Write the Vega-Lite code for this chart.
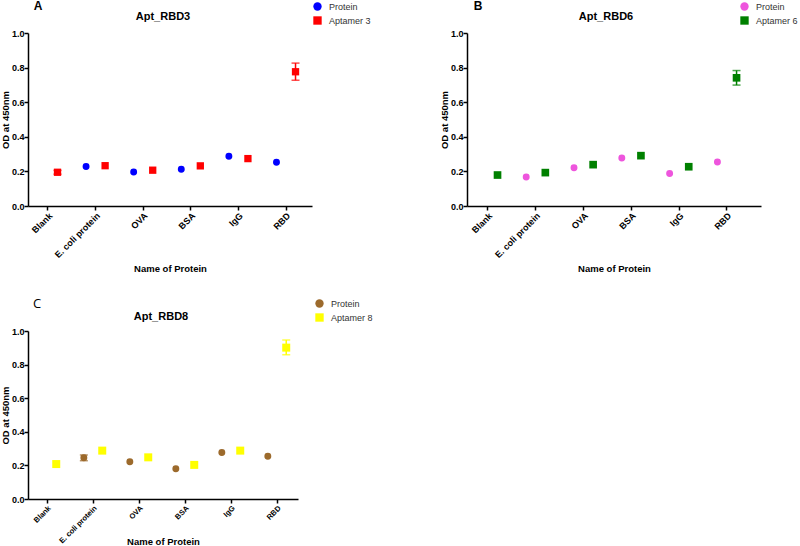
{
  "$schema": "https://vega.github.io/schema/vega-lite/v6.json",
  "padding": {"left": 0, "top": 0, "right": 0, "bottom": 0},
  "background": "white",
  "config": {
    "font": "Liberation Sans",
    "view": {"stroke": null},
    "axis": {"grid": false, "domainColor": "#000", "domainWidth": 1.5, "tickColor": "#000", "tickWidth": 1.5, "tickSize": 4, "labelColor": "#000", "labelFontSize": 9, "labelFontWeight": "bold", "titleColor": "#000", "titleFontSize": 9.5, "titleFontWeight": "bold", "labelPadding": 0},
    "axisY": {"values": [0, 0.2, 0.4, 0.6, 0.8, 1.0], "format": ".1f", "titlePadding": 1},
    "axisX": {"labelAngle": -45, "titleBaseline": "middle", "labelPadding": 1},
    "title": {"fontSize": 11, "fontWeight": "bold", "color": "#000", "frame": "group"},
    "legend": {"orient": "none", "title": null, "labelFontSize": 9, "labelColor": "#333", "symbolSize": 70, "rowPadding": 4, "padding": 0, "labelOffset": 7, "symbolStrokeWidth": 0}
  },
  "columns": 2,
  "bounds": "flush",
  "spacing": {"row": 125, "column": 155},
  "resolve": {"scale": {"color": "independent", "shape": "independent", "x": "independent", "y": "independent", "xOffset": "independent"}, "legend": {"color": "independent", "shape": "independent"}},
  "concat": [
    {
      "width": 284, "height": 173,
      "title": {"text": "Apt_RBD3", "dx": -7, "offset": -22},
      "layer": [
        {
          "data": {"values": [
            {"protein": "Blank", "series": "Aptamer 3", "od": 0.195, "lo": 0.184, "hi": 0.206},
            {"protein": "E. coli protein", "series": "Protein", "od": 0.228},
            {"protein": "E. coli protein", "series": "Aptamer 3", "od": 0.233},
            {"protein": "OVA", "series": "Protein", "od": 0.197},
            {"protein": "OVA", "series": "Aptamer 3", "od": 0.207},
            {"protein": "BSA", "series": "Protein", "od": 0.212},
            {"protein": "BSA", "series": "Aptamer 3", "od": 0.232},
            {"protein": "IgG", "series": "Protein", "od": 0.288},
            {"protein": "IgG", "series": "Aptamer 3", "od": 0.274},
            {"protein": "RBD", "series": "Protein", "od": 0.253},
            {"protein": "RBD", "series": "Aptamer 3", "od": 0.776, "lo": 0.727, "hi": 0.826}
          ]},
          "encoding": {
            "x": {"field": "protein", "type": "nominal", "title": "Name of Protein", "scale": {"domain": ["Blank", "E. coli protein", "OVA", "BSA", "IgG", "RBD"], "paddingInner": 0.2, "paddingOuter": 0.083, "align": 0.12}, "axis": {"titleY": 62}},
            "xOffset": {"field": "series", "type": "nominal", "scale": {"domain": ["Protein", "Aptamer 3"]}},
            "color": {"field": "series", "type": "nominal", "scale": {"domain": ["Protein", "Aptamer 3"], "range": ["#0000FF", "#FF0000"]}, "legend": {"legendX": 285, "legendY": -31}}
          },
          "layer": [
            {
              "mark": {"type": "point", "filled": true, "opacity": 1},
              "encoding": {
                "y": {"field": "od", "type": "quantitative", "title": "OD at 450nm", "scale": {"domain": [0, 1]}},
                "shape": {"field": "series", "type": "nominal", "scale": {"domain": ["Protein", "Aptamer 3"], "range": ["circle", "square"]}, "legend": {"legendX": 285, "legendY": -31}},
                "size": {"field": "series", "type": "nominal", "scale": {"domain": ["Protein", "Aptamer 3"], "range": [48, 64]}, "legend": null}
              }
            },
            {
              "transform": [{"filter": "isValid(datum.lo)"}],
              "mark": {"type": "rule", "strokeWidth": 1.5},
              "encoding": {"y": {"field": "lo", "type": "quantitative", "title": "OD at 450nm"}, "y2": {"field": "hi"}}
            },
            {
              "transform": [{"filter": "isValid(datum.lo)"}],
              "mark": {"type": "tick", "thickness": 1.5, "size": 8, "orient": "horizontal"},
              "encoding": {"y": {"field": "lo", "type": "quantitative", "title": "OD at 450nm"}}
            },
            {
              "transform": [{"filter": "isValid(datum.lo)"}],
              "mark": {"type": "tick", "thickness": 1.5, "size": 8, "orient": "horizontal"},
              "encoding": {"y": {"field": "hi", "type": "quantitative", "title": "OD at 450nm"}}
            }
          ]
        },
        {
          "data": {"values": [{"letter": "A"}]},
          "mark": {"type": "text", "fontSize": 12, "fontWeight": "bold", "color": "#000", "dx": -10, "dy": -27},
          "encoding": {"x": {"datum": "Blank", "type": "nominal"}, "y": {"datum": 1, "type": "quantitative"}, "text": {"field": "letter"}}
        }
      ]
    },
    {
      "width": 294, "height": 173,
      "title": {"text": "Apt_RBD6", "dx": -8, "offset": -22},
      "layer": [
        {
          "data": {"values": [
            {"protein": "Blank", "series": "Aptamer 6", "od": 0.179},
            {"protein": "E. coli protein", "series": "Protein", "od": 0.168},
            {"protein": "E. coli protein", "series": "Aptamer 6", "od": 0.193},
            {"protein": "OVA", "series": "Protein", "od": 0.221},
            {"protein": "OVA", "series": "Aptamer 6", "od": 0.239},
            {"protein": "BSA", "series": "Protein", "od": 0.277},
            {"protein": "BSA", "series": "Aptamer 6", "od": 0.291},
            {"protein": "IgG", "series": "Protein", "od": 0.188},
            {"protein": "IgG", "series": "Aptamer 6", "od": 0.227},
            {"protein": "RBD", "series": "Protein", "od": 0.254},
            {"protein": "RBD", "series": "Aptamer 6", "od": 0.741, "lo": 0.699, "hi": 0.783}
          ]},
          "encoding": {
            "x": {"field": "protein", "type": "nominal", "title": "Name of Protein", "scale": {"domain": ["Blank", "E. coli protein", "OVA", "BSA", "IgG", "RBD"], "paddingInner": 0.2, "paddingOuter": 0.175, "align": 0.11}, "axis": {"titleY": 62}},
            "xOffset": {"field": "series", "type": "nominal", "scale": {"domain": ["Protein", "Aptamer 6"]}},
            "color": {"field": "series", "type": "nominal", "scale": {"domain": ["Protein", "Aptamer 6"], "range": ["#EE55DD", "#008000"]}, "legend": {"legendX": 273, "legendY": -31}}
          },
          "layer": [
            {
              "mark": {"type": "point", "filled": true, "opacity": 1},
              "encoding": {
                "y": {"field": "od", "type": "quantitative", "title": "OD at 450nm", "scale": {"domain": [0, 1]}},
                "shape": {"field": "series", "type": "nominal", "scale": {"domain": ["Protein", "Aptamer 6"], "range": ["circle", "square"]}, "legend": {"legendX": 273, "legendY": -31}},
                "size": {"field": "series", "type": "nominal", "scale": {"domain": ["Protein", "Aptamer 6"], "range": [48, 64]}, "legend": null}
              }
            },
            {
              "transform": [{"filter": "isValid(datum.lo)"}],
              "mark": {"type": "rule", "strokeWidth": 1.5},
              "encoding": {"y": {"field": "lo", "type": "quantitative", "title": "OD at 450nm"}, "y2": {"field": "hi"}}
            },
            {
              "transform": [{"filter": "isValid(datum.lo)"}],
              "mark": {"type": "tick", "thickness": 1.5, "size": 8, "orient": "horizontal"},
              "encoding": {"y": {"field": "lo", "type": "quantitative", "title": "OD at 450nm"}}
            },
            {
              "transform": [{"filter": "isValid(datum.lo)"}],
              "mark": {"type": "tick", "thickness": 1.5, "size": 8, "orient": "horizontal"},
              "encoding": {"y": {"field": "hi", "type": "quantitative", "title": "OD at 450nm"}}
            }
          ]
        },
        {
          "data": {"values": [{"letter": "B"}]},
          "mark": {"type": "text", "fontSize": 12, "fontWeight": "bold", "color": "#000", "dx": -10, "dy": -27},
          "encoding": {"x": {"datum": "Blank", "type": "nominal"}, "y": {"datum": 1, "type": "quantitative"}, "text": {"field": "letter"}}
        }
      ]
    },
    {
      "width": 270, "height": 168,
      "title": {"text": "Apt_RBD8", "dx": -2, "offset": -24},
      "layer": [
        {
          "data": {"values": [
            {"protein": "Blank", "series": "Aptamer 8", "od": 0.208},
            {"protein": "E. coli protein", "series": "Protein", "od": 0.245, "lo": 0.228, "hi": 0.262},
            {"protein": "E. coli protein", "series": "Aptamer 8", "od": 0.288},
            {"protein": "OVA", "series": "Protein", "od": 0.222},
            {"protein": "OVA", "series": "Aptamer 8", "od": 0.248},
            {"protein": "BSA", "series": "Protein", "od": 0.180},
            {"protein": "BSA", "series": "Aptamer 8", "od": 0.203},
            {"protein": "IgG", "series": "Protein", "od": 0.277},
            {"protein": "IgG", "series": "Aptamer 8", "od": 0.288},
            {"protein": "RBD", "series": "Protein", "od": 0.255},
            {"protein": "RBD", "series": "Aptamer 8", "od": 0.901, "lo": 0.858, "hi": 0.946}
          ]},
          "encoding": {
            "x": {"field": "protein", "type": "nominal", "title": "Name of Protein", "scale": {"domain": ["Blank", "E. coli protein", "OVA", "BSA", "IgG", "RBD"], "paddingInner": 0.2, "paddingOuter": 0.035, "align": 0.2}, "axis": {"titleY": 42, "labelFontSize": 7.5}},
            "xOffset": {"field": "series", "type": "nominal", "scale": {"domain": ["Protein", "Aptamer 8"]}},
            "color": {"field": "series", "type": "nominal", "scale": {"domain": ["Protein", "Aptamer 8"], "range": ["#9C6A2C", "#FFFF00"]}, "legend": {"legendX": 287, "legendY": -32}}
          },
          "layer": [
            {
              "mark": {"type": "point", "filled": true, "opacity": 1},
              "encoding": {
                "y": {"field": "od", "type": "quantitative", "title": "OD at 450nm", "scale": {"domain": [0, 1]}},
                "shape": {"field": "series", "type": "nominal", "scale": {"domain": ["Protein", "Aptamer 8"], "range": ["circle", "square"]}, "legend": {"legendX": 287, "legendY": -32}},
                "size": {"field": "series", "type": "nominal", "scale": {"domain": ["Protein", "Aptamer 8"], "range": [48, 64]}, "legend": null}
              }
            },
            {
              "transform": [{"filter": "isValid(datum.lo)"}],
              "mark": {"type": "rule", "strokeWidth": 1.5},
              "encoding": {"y": {"field": "lo", "type": "quantitative", "title": "OD at 450nm"}, "y2": {"field": "hi"}}
            },
            {
              "transform": [{"filter": "isValid(datum.lo)"}],
              "mark": {"type": "tick", "thickness": 1.5, "size": 8, "orient": "horizontal"},
              "encoding": {"y": {"field": "lo", "type": "quantitative", "title": "OD at 450nm"}}
            },
            {
              "transform": [{"filter": "isValid(datum.lo)"}],
              "mark": {"type": "tick", "thickness": 1.5, "size": 8, "orient": "horizontal"},
              "encoding": {"y": {"field": "hi", "type": "quantitative", "title": "OD at 450nm"}}
            }
          ]
        },
        {
          "data": {"values": [{"letter": "C"}]},
          "mark": {"type": "text", "fontSize": 13, "font": "Open Sans", "color": "#000", "dx": -10, "dy": -27},
          "encoding": {"x": {"datum": "Blank", "type": "nominal"}, "y": {"datum": 1, "type": "quantitative"}, "text": {"field": "letter"}}
        }
      ]
    }
  ]
}
